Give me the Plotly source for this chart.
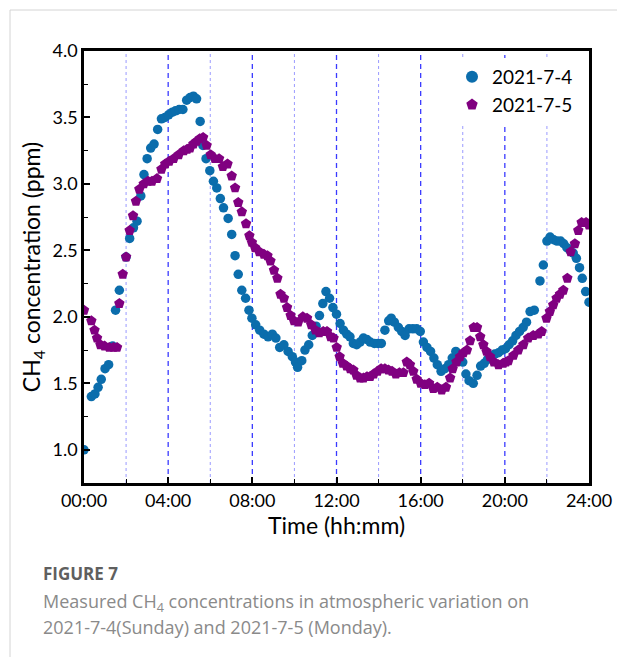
import plotly.graph_objects as go

# ---- data (time in hours, CH4 in ppm) ----
t_0704 = [0.00, 0.35, 0.52, 0.67, 0.82, 1.00, 1.17, 1.36, 1.50, 1.68, 2.00, 2.17, 2.35, 2.52, 2.70, 2.85,
          3.00, 3.17, 3.33, 3.50, 3.68, 3.85, 4.02, 4.20, 4.35, 4.52, 4.70, 4.88, 5.04, 5.20, 5.35, 5.52,
          5.65, 5.80, 5.98, 6.15, 6.31, 6.48, 6.63, 6.85, 7.02, 7.18, 7.33, 7.50, 7.68, 7.84, 7.98, 8.16,
          8.35, 8.55, 8.75, 8.95, 9.12, 9.30, 9.50, 9.70, 9.90, 10.05, 10.15, 10.35, 10.50, 10.68, 10.85,
          11.03, 11.19, 11.35, 11.50, 11.67, 11.83, 12.00, 12.17, 12.33, 12.49, 12.64, 12.80, 12.96, 13.12,
          13.28, 13.44, 13.60, 13.80, 13.97, 14.13, 14.30, 14.48, 14.60, 14.75, 14.94, 15.10, 15.26, 15.45,
          15.63, 15.81, 15.98, 16.13, 16.30, 16.47, 16.63, 16.79, 16.97, 17.15, 17.33, 17.50, 17.67, 17.84,
          18.00, 18.15, 18.30, 18.50, 18.68, 18.85, 19.02, 19.18, 19.35, 19.52, 19.70, 19.87, 20.03, 20.20,
          20.37, 20.53, 20.70, 20.87, 21.03, 21.20, 21.40, 21.67, 21.83, 22.00, 22.15, 22.32, 22.48, 22.65,
          22.80, 22.95, 23.10, 23.25, 23.40, 23.55, 23.68, 23.84, 24.00]
ch4_0704 = [1.00, 1.40, 1.42, 1.47, 1.53, 1.61, 1.64, 1.78, 2.05, 2.20, 2.45, 2.59, 2.67, 2.72, 2.91, 3.07,
            3.19, 3.27, 3.30, 3.41, 3.49, 3.50, 3.52, 3.54, 3.55, 3.56, 3.56, 3.63, 3.65, 3.66, 3.64, 3.47,
            3.29, 3.19, 3.10, 3.02, 2.97, 2.89, 2.82, 2.74, 2.62, 2.46, 2.32, 2.20, 2.14, 2.05, 1.99, 1.94,
            1.90, 1.87, 1.85, 1.87, 1.84, 1.77, 1.79, 1.74, 1.70, 1.66, 1.62, 1.67, 1.75, 1.79, 1.86,
            1.93, 2.01, 2.10, 2.19, 2.14, 2.07, 2.02, 1.95, 1.90, 1.87, 1.85, 1.80, 1.79, 1.81,
            1.84, 1.83, 1.81, 1.80, 1.80, 1.80, 1.90, 1.97, 1.99, 1.96, 1.92, 1.89, 1.86, 1.91,
            1.91, 1.91, 1.89, 1.81, 1.77, 1.74, 1.69, 1.64, 1.59, 1.61, 1.64, 1.69, 1.74, 1.71,
            1.66, 1.57, 1.52, 1.50, 1.56, 1.63, 1.65, 1.68, 1.70, 1.72, 1.73, 1.75, 1.76, 1.79,
            1.82, 1.86, 1.89, 1.92, 1.96, 2.04, 2.05, 2.27, 2.39, 2.57, 2.60, 2.58, 2.57, 2.57,
            2.55, 2.52, 2.50, 2.48, 2.44, 2.37, 2.29, 2.19, 2.11]

t_0705 = [0.00, 0.35, 0.50, 0.62, 0.78, 0.98, 1.20, 1.40, 1.57, 1.68, 1.84, 2.00, 2.17, 2.33, 2.47, 2.63,
          2.84, 3.04, 3.23, 3.47, 3.68, 3.86, 4.05, 4.26, 4.50, 4.74, 4.90, 5.04, 5.20, 5.35, 5.50, 5.66,
          5.83, 6.02, 6.22, 6.42, 6.60, 6.82, 7.02, 7.18, 7.33, 7.50, 7.70, 7.86, 7.98, 8.13, 8.33, 8.55,
          8.72, 8.86, 9.03, 9.19, 9.34, 9.50, 9.65, 9.82, 9.98, 10.18, 10.40, 10.60, 10.80, 11.00, 11.18,
          11.37, 11.55, 11.72, 11.86, 12.01, 12.15, 12.30, 12.48, 12.65, 12.80, 12.95, 13.12, 13.28, 13.45,
          13.60, 13.77, 13.95, 14.12, 14.30, 14.47, 14.64, 14.82, 14.99, 15.18, 15.34, 15.49, 15.65, 15.81,
          16.00, 16.20, 16.40, 16.60, 16.79, 17.00, 17.20, 17.40, 17.52, 17.70, 17.87, 18.03, 18.20, 18.35,
          18.52, 18.68, 18.83, 18.98, 19.13, 19.30, 19.48, 19.70, 19.92, 20.05, 20.17, 20.41, 20.64, 20.88,
          21.11, 21.35, 21.59, 21.75, 21.98, 22.14, 22.30, 22.46, 22.62, 22.78, 22.97, 23.13, 23.33, 23.49,
          23.65, 23.86, 24.00]
ch4_0705 = [2.05, 1.97, 1.90, 1.84, 1.79, 1.78, 1.77, 1.77, 1.77, 2.10, 2.32, 2.45, 2.65, 2.76, 2.87, 2.96,
            3.00, 3.02, 3.02, 3.04, 3.11, 3.15, 3.17, 3.19, 3.22, 3.25, 3.26, 3.27, 3.30, 3.32, 3.34, 3.35,
            3.29, 3.22, 3.19, 3.19, 3.13, 3.15, 3.06, 2.97, 2.86, 2.79, 2.70, 2.61, 2.56, 2.52, 2.49, 2.47,
            2.46, 2.42, 2.35, 2.29, 2.17, 2.14, 2.07, 2.01, 1.97, 1.96, 2.00, 1.99, 1.94, 1.90, 1.88,
            1.89, 1.89, 1.85, 1.84, 1.77, 1.70, 1.65, 1.63, 1.61, 1.60, 1.56, 1.54, 1.54, 1.55,
            1.55, 1.57, 1.59, 1.61, 1.61, 1.60, 1.59, 1.57, 1.58, 1.58, 1.66, 1.64, 1.59, 1.53,
            1.50, 1.49, 1.50, 1.46, 1.47, 1.45, 1.47, 1.54, 1.61, 1.66, 1.70, 1.73, 1.75, 1.82,
            1.92, 1.92, 1.85, 1.79, 1.74, 1.70, 1.66, 1.64, 1.65, 1.66, 1.67, 1.71, 1.75, 1.79,
            1.84, 1.86, 1.87, 1.89, 1.99, 2.04, 2.09, 2.14, 2.17, 2.20, 2.29, 2.49, 2.55, 2.65,
            2.71, 2.71, 2.69]

x_tickvals = [0, 4, 8, 12, 16, 20, 24]
x_ticktext = ["00:00", "04:00", "08:00", "12:00", "16:00", "20:00", "24:00"]
y_tickvals = [1.0, 1.5, 2.0, 2.5, 3.0, 3.5, 4.0]
dashed_hours = [4, 8, 12, 16, 20]
dotted_hours = [2, 6, 10, 14, 18, 22]

# ---- layout geometry (pixels) ----
W, H = 617, 657
L, R, T, B = 84, 589, 51, 483
pw, ph = R - L, B - T


def px(xp):
    return (xp - L) / pw


def py(yp):
    return (B - yp) / ph


fig = go.Figure()
fig.add_trace(go.Scatter(
    x=t_0704, y=ch4_0704, mode="markers", name="2021-7-4",
    marker=dict(symbol="circle", size=9.5, color="#0B6DAC", line=dict(width=0)),
))
fig.add_trace(go.Scatter(
    x=t_0705, y=ch4_0705, mode="markers", name="2021-7-5",
    marker=dict(symbol="pentagon", size=11, color="#800080", line=dict(width=0)),
))

shapes = []
for h in dashed_hours:
    shapes.append(dict(type="line", xref="x", yref="paper", x0=h, x1=h, y0=0, y1=1, layer="below",
                       line=dict(color="#3a3aff", width=1.3, dash="5px,4px")))
for h in dotted_hours:
    shapes.append(dict(type="line", xref="x", yref="paper", x0=h, x1=h, y0=0, y1=1, layer="below",
                       line=dict(color="#9a9aff", width=1, dash="dot")))
# card border (left and top)
shapes.append(dict(type="line", xref="paper", yref="paper", x0=px(10), x1=px(10), y0=py(10), y1=py(657),
                   line=dict(color="#d4d4d4", width=1)))
shapes.append(dict(type="line", xref="paper", yref="paper", x0=px(10), x1=px(617), y0=py(10), y1=py(10),
                   line=dict(color="#d4d4d4", width=1)))

annotations = [
    dict(text="<b>FIGURE 7</b>", xref="paper", yref="paper", x=px(41), y=py(573), xanchor="left",
         yanchor="middle", showarrow=False, font=dict(family="Open Sans", size=17, color="#5f5f5f")),
    dict(text="Measured CH<sub>4</sub> concentrations in atmospheric variation on", xref="paper", yref="paper",
         x=px(41), y=py(602), xanchor="left", yanchor="middle", showarrow=False,
         font=dict(family="Open Sans", size=18, color="#8a8a8a")),
    dict(text="2021-7-4(Sunday) and 2021-7-5 (Monday).", xref="paper", yref="paper",
         x=px(41), y=py(627), xanchor="left", yanchor="middle", showarrow=False,
         font=dict(family="Open Sans", size=18, color="#8a8a8a")),
]

fig.update_layout(
    width=W, height=H,
    margin=dict(l=L, r=W - R, t=T, b=H - B, autoexpand=False),
    paper_bgcolor="white", plot_bgcolor="white",
    font=dict(family="Lato", size=18, color="black"),
    shapes=shapes, annotations=annotations,
    showlegend=True,
    legend=dict(x=px(452), y=py(58), xanchor="left", yanchor="top", bgcolor="white",
                font=dict(family="Lato", size=19), itemsizing="constant", tracegroupgap=0),
)
fig.update_xaxes(
    range=[0, 24], tickmode="array", tickvals=x_tickvals, ticktext=x_ticktext,
    ticks="inside", ticklen=6, tickwidth=1.5, tickcolor="black",
    minor=dict(tick0=0, dtick=2, ticks="inside", ticklen=4, tickwidth=1.2, tickcolor="black"),
    showline=True, linecolor="black", linewidth=2.5, mirror=True, showgrid=False, zeroline=False,
    tickfont=dict(family="Lato", size=18),
    title=dict(text="Time (hh:mm)", font=dict(family="Lato", size=23), standoff=8),
)
fig.update_yaxes(
    range=[0.75, 4.0], tickmode="array", tickvals=y_tickvals, ticktext=[f"{v:.1f}" for v in y_tickvals],
    ticks="inside", ticklen=6, tickwidth=1.5, tickcolor="black",
    minor=dict(tick0=0.75, dtick=0.25, ticks="inside", ticklen=4, tickwidth=1.2, tickcolor="black"),
    showline=True, linecolor="black", linewidth=2.5, mirror=True, showgrid=False, zeroline=False,
    tickfont=dict(family="Lato", size=18),
    title=dict(text="CH<sub>4</sub> concentration (ppm)", font=dict(family="Lato", size=23), standoff=6),
)

fig.write_html("out.html")
